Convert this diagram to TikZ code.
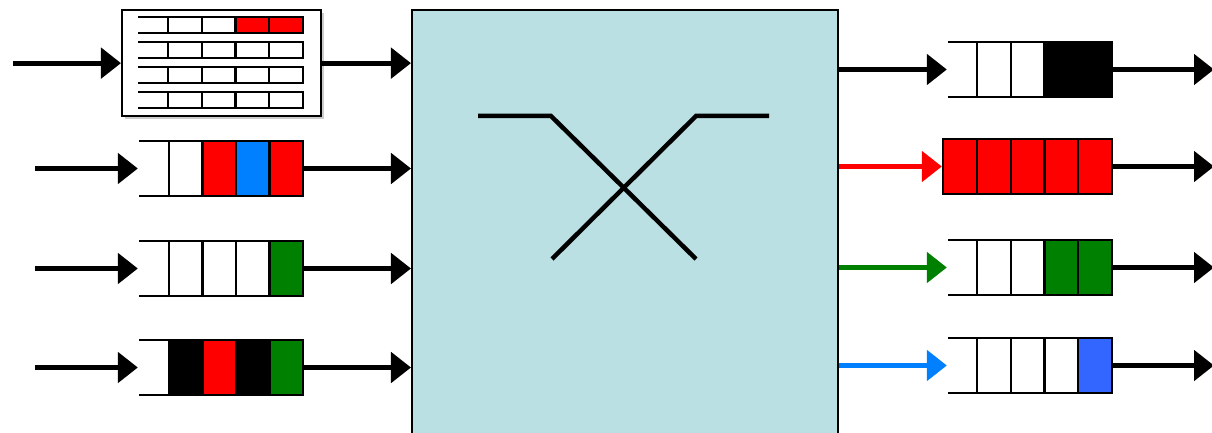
\documentclass[tikz,border=0pt]{standalone}
\usetikzlibrary{arrows.meta,shadows}
\definecolor{swfill}{HTML}{BAE0E3}\definecolor{pktblue}{HTML}{0080FF}
\definecolor{pktgreen}{HTML}{008000}\definecolor{outblue}{HTML}{3366FF}
\begin{document}
\begin{tikzpicture}[x=.025cm,y=-.025cm,>={Triangle[length=.5cm,width=.75cm]},line width=1.6pt,
  qbox/.style={inner sep=0,minimum width=4.1cm,minimum height=1.375cm},arr/.style={->,line width=3.5pt}]
\useasboundingbox (0,0) rectangle (1212,433);\clip (0,0) rectangle (1212,433);
\node[draw,fill=swfill,inner sep=0,minimum width=10.65cm,minimum height=11.5cm,anchor=north west] (sw) at (411,9) {};
\draw[line width=3.2pt] (478,116)--(551,116)--(696,259);\draw[line width=3.2pt] (769,116)--(696,116)--(552,259);
\node[draw,fill=white,drop shadow={shadow xshift=.075cm,shadow yshift=-.075cm,opacity=.4},inner sep=0,minimum width=4.975cm,minimum height=2.65cm,anchor=north west] (in1) at (121,9) {};
\foreach \t in {17,42,67,92}{\draw (138,\t)--(168,\t) (138,\t+16)--(168,\t+16);\foreach \k in {0,...,3}\draw ({168+33.75*\k},\t) rectangle +(33.75,16);}
\filldraw[fill=red] (235.5,17) rectangle +(33.75,16) (269.25,17) rectangle +(33.75,16);
\foreach \t/\ca/\cb/\cc/\cd [count=\i from 2] in {141/white/red/pktblue/red,241/white/white/white/pktgreen,340/black/red/black/pktgreen}{
  \draw (139,\t)--(169,\t) (139,\t+55)--(169,\t+55);
  \foreach \c [count=\k from 0] in {\ca,\cb,\cc,\cd}\filldraw[fill=\c] ({169+33.5*\k},\t) rectangle +(33.5,55);
  \node[qbox] (in\i) at (221,\t+27.5) {};}
\foreach \t/\ca/\cb/\cc/\cd [count=\i] in {42/white/white/black/black,139/red/red/red/red,240/white/white/pktgreen/pktgreen,338/white/white/white/outblue}{
  \draw (948,\t)--(977,\t) (948,\t+55)--(977,\t+55);
  \foreach \c [count=\k from 0] in {\ca,\cb,\cc,\cd}\filldraw[fill=\c] ({977+33.75*\k},\t) rectangle +(33.75,55);
  \node[qbox] (out\i) at (1030,\t+27.5) {};}
\filldraw[fill=red] (943,139) rectangle (977,194);
\path (13,0) coordinate (s1) (35,0) coordinate (s2) (1214,0) coordinate (d);
\draw[arr] (in1.west -| s1)--(in1.west);
\foreach \i in {2,3,4}\draw[arr] (in\i.west -| s2)--(in\i.west);
\foreach \i in {1,...,4}{\draw[arr] (in\i.east)--(sw.west |- in\i.east);\draw[arr] (out\i.east)--(out\i.east -| d);}
\foreach \i/\col in {1/black,3/pktgreen,4/pktblue}\draw[arr,\col] (sw.east |- out\i.west)--(out\i.west);
\draw[arr,red] (sw.east |- out2.west)--([xshift=-.125cm]out2.west);
\end{tikzpicture}
\end{document}
